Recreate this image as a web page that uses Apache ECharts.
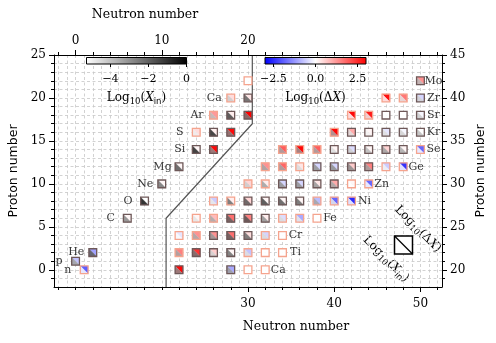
<!DOCTYPE html>
<html>
<head>
<meta charset="utf-8">
<script src="https://cdn.jsdelivr.net/npm/echarts@6/dist/echarts.min.js"></script>
<style>
  html, body { margin: 0; padding: 0; background: #fff; }
  #chart { width: 496px; height: 343px; }
</style>
</head>
<body>
<div id="chart"></div>
<script>
// light nuclei, read against the top (N) and left (Z) axes
// [N, Z, log10(Xin), log10(dX), stable]
var lightIsotopes = [
  [1, 0, -5.3, -1.9, 0],
  [0, 1, -3.3, -0.7, 1],
  [2, 2, -1.9, -1.1, 1],
  [6, 6, -2.8, 0.1, 1],
  [8, 8, -0.3, 0.0, 1],
  [10, 10, -2.4, 0.1, 1],
  [12, 12, -1.8, 0.1, 1],
  [14, 14, -0.7, 0.1, 1],
  [16, 14, -2.9, 2.9, 1],
  [14, 16, -4.9, 0.4, 0],
  [16, 16, -0.8, 0.2, 1],
  [18, 16, -2.7, 2.9, 1],
  [16, 18, -3.9, 1.2, 0],
  [18, 18, -1.4, 0.2, 1],
  [20, 18, -2.5, 3.0, 1],
  [18, 20, -4.2, 0.4, 0],
  [20, 20, -2.0, 0.3, 1],
  [20, 22, -6, 0, 0]
];

// heavier nuclei, read against the bottom (N) and right (Z) axes
var heavyIsotopes = [
  [22, 20, -2.9, 2.9, 1], [28, 20, -3.2, -1.0, 1], [30, 20, -6, 0, 0], [32, 20, -6, 0, 0],
  [22, 22, -3.4, 1.5, 0], [24, 22, -2.4, 2.4, 1], [26, 22, -4.3, 0.6, 1], [28, 22, -2.3, 0.1, 1],
  [30, 22, -4.6, -0.7, 0], [32, 22, -6, 0, 0], [34, 22, -6, 0, 0],
  [22, 24, -5.2, -0.3, 0], [24, 24, -3.5, 1.3, 0], [26, 24, -3.1, 1.3, 1], [28, 24, -2.0, 1.7, 1],
  [30, 24, -2.2, 0.4, 1], [32, 24, -4.5, -0.5, 0], [34, 24, -6, 0, 0],
  [24, 26, -4.7, 0.1, 0], [26, 26, -3.5, 0.8, 0], [28, 26, -2.0, 1.7, 1], [30, 26, -1.7, 1.5, 1],
  [32, 26, -3.0, 0.2, 1], [34, 26, -4.5, -0.4, 0], [36, 26, -4.8, -1.0, 0], [38, 26, -6, 0, 0],
  [26, 28, -4.8, -0.6, 0], [28, 28, -2.2, 0.2, 0], [30, 28, -1.8, 0.5, 1], [32, 28, -1.4, 0.1, 1],
  [34, 28, -1.8, 0.1, 1], [36, 28, -2.1, 0.1, 1], [38, 28, -3.4, -0.8, 0], [40, 28, -4.8, -1.8, 0],
  [42, 28, -5.3, -2.5, 0],
  [30, 30, -4.2, 0.5, 0], [32, 30, -3.3, 0.2, 0], [34, 30, -3.0, -0.5, 1], [36, 30, -3.0, -0.5, 1],
  [38, 30, -3.1, 0.3, 1], [40, 30, -3.4, 1.0, 1], [42, 30, -5.3, 0.1, 0], [44, 30, -5.3, -1.8, 0],
  [32, 32, -3.4, 1.3, 0], [34, 32, -3.4, 1.8, 0], [36, 32, -4.5, 0.3, 0], [38, 32, -3.0, -0.5, 1],
  [40, 32, -2.9, -0.5, 1], [42, 32, -2.9, 0.6, 1], [44, 32, -3.3, 1.5, 1], [46, 32, -5.0, -0.6, 0],
  [48, 32, -5.3, -2.4, 0],
  [34, 34, -3.4, 1.9, 0], [36, 34, -3.1, 2.9, 0], [38, 34, -3.4, 1.9, 0], [40, 34, -4.5, 0.1, 1],
  [42, 34, -4.2, -0.4, 1], [44, 34, -3.8, 0.1, 1], [46, 34, -3.3, 0.5, 1], [48, 34, -3.5, 0.1, 1],
  [50, 34, -5.3, -1.8, 0],
  [40, 36, -3.4, 2.9, 0], [42, 36, -4.6, 1.0, 1], [44, 36, -5.0, 0.1, 1], [46, 36, -4.6, -0.3, 1],
  [48, 36, -4.3, -0.1, 1], [50, 36, -3.9, 0.0, 1],
  [42, 38, -5.3, 2.9, 0], [44, 38, -4.9, 2.7, 0], [46, 38, -5.3, 0.0, 1], [48, 38, -5.3, 0.0, 1],
  [50, 38, -4.2, -0.1, 1],
  [46, 40, -5.3, 2.8, 0], [48, 40, -4.7, 1.6, 0], [50, 40, -4.3, -0.5, 1],
  [50, 42, -3.8, 1.3, 1]
];

// element names, attached to an isotope [name, N, Z]
var lightLabels = [
  ['n', 1, 0], ['p', 0, 1], ['He', 2, 2], ['C', 6, 6], ['O', 8, 8], ['Ne', 10, 10],
  ['Mg', 12, 12], ['Si', 14, 14], ['S', 14, 16], ['Ar', 16, 18], ['Ca', 18, 20]
];
var heavyLabels = [
  ['Ca', 32, 20], ['Ti', 34, 22], ['Cr', 34, 24], ['Fe', 38, 26], ['Ni', 42, 28], ['Zn', 44, 30],
  ['Ge', 48, 32], ['Se', 50, 34], ['Kr', 50, 36], ['Sr', 50, 38], ['Zr', 50, 40], ['Mo', 50, 42]
];

// boundary between the two panels (top/left units)
var borderN = [10.5, 10.5, 20.5, 20.5];
var borderZ = [-2, 6, 17, 25];

var topTicks = [0, 10, 20];
var bottomTicks = [30, 40, 50];
var leftTicks = [0, 5, 10, 15, 20, 25];
var rightTicks = [20, 25, 30, 35, 40, 45];
var xinTicks = [-4, -2, 0];
var dxTicks = [-2.5, 0, 2.5];
var xinRange = [-5.25, 0];
var dxRange = [-3, 3];

function steps(a, b, d) {
  var out = [];
  for (var v = a; v <= b + 1e-9; v += d) out.push(v);
  return out;
}

function clamp01(t) { return Math.max(0, Math.min(1, t)); }
function grayColor(v) {
  var t = clamp01((v - xinRange[0]) / (xinRange[1] - xinRange[0]));
  var g = 255 * (1 - t);
  return [g, g, g];
}
function bwrColor(v) {
  var t = clamp01((v - dxRange[0]) / (dxRange[1] - dxRange[0]));
  if (t < 0.5) { var c = 510 * t; return [c, c, 255]; }
  var c2 = 510 * (1 - t);
  return [255, c2, c2];
}
function mix(a, b, w) {
  return [a[0] * (1 - w) + b[0] * w, a[1] * (1 - w) + b[1] * w, a[2] * (1 - w) + b[2] * w];
}
function rgb(c) {
  return 'rgb(' + Math.round(c[0]) + ',' + Math.round(c[1]) + ',' + Math.round(c[2]) + ')';
}

function renderSquare(params, api) {
  var c = api.coord([api.value(0), api.value(1)]);
  var s = api.size([1, 1]);
  var w = s[0] * 0.9, h = s[1] * 0.9;
  var x0 = c[0] - w / 2, y0 = c[1] - h / 2, x1 = x0 + w, y1 = y0 + h;
  var dx = bwrColor(api.value(3));
  var xin = mix(grayColor(api.value(2)), dx, 0.15);
  var stable = api.value(4) === 1;
  return {
    type: 'group',
    children: [
      { type: 'polygon', shape: { points: [[x0, y0], [x1, y0], [x1, y1]] },
        style: { fill: rgb(dx), stroke: rgb(dx), lineWidth: 0.3 } },
      { type: 'polygon', shape: { points: [[x0, y0], [x0, y1], [x1, y1]] },
        style: { fill: rgb(xin), stroke: rgb(xin), lineWidth: 0.3 } },
      { type: 'rect', shape: { x: x0, y: y0, width: w, height: h },
        style: { fill: null, stroke: stable ? '#6e5858' : '#f5a48e', lineWidth: 1.3 } }
    ]
  };
}

function colorbar(cmap, range) {
  var stops = [];
  for (var i = 0; i <= 20; i++) {
    stops.push({ offset: i / 20, color: rgb(cmap(range[0] + (range[1] - range[0]) * i / 20)) });
  }
  return function (params, api) {
    var p0 = api.coord([api.value(0), 1]);
    var p1 = api.coord([api.value(1), 0]);
    return {
      type: 'rect',
      shape: { x: p0[0], y: p0[1], width: p1[0] - p0[0], height: p1[1] - p0[1] },
      style: { fill: new echarts.graphic.LinearGradient(0, 0, 1, 0, stops), stroke: '#000', lineWidth: 1 }
    };
  };
}

var serif = 'DejaVu Serif';
var rich = {
  a: { fontFamily: serif, fontSize: 12, color: '#000', lineHeight: 16 },
  i: { fontFamily: serif, fontSize: 12, fontStyle: 'italic', color: '#000', lineHeight: 16 },
  s: { fontFamily: serif, fontSize: 8.5, color: '#000', verticalAlign: 'bottom', lineHeight: 9 },
  r: { fontFamily: 'DejaVu Sans', fontSize: 8.5, color: '#000', verticalAlign: 'bottom', lineHeight: 9 }
};
var xinName = '{a|Log}{s|10}{a|(}{i|X}{r|in}{a|)}';
var dxName = '{a|Log}{s|10}{a|(Δ}{i|X}{a|)}';
var minus = function (v) { return String(v).replace('-', '\u2212'); };

var black = { color: '#000', width: 1 };

function mainAxis(pos, lo, hi, ticks) {
  return {
    type: 'value', gridIndex: 0, position: pos, min: lo, max: hi,
    axisLine: { show: false, onZero: false },
    axisTick: { show: true, customValues: ticks, length: 5, lineStyle: black },
    axisLabel: { show: true, customValues: ticks, color: '#000', fontFamily: serif, fontSize: 12,
                 margin: (pos === 'bottom' ? 11 : 8) },
    splitLine: { show: false }
  };
}
function minorAxis(pos, lo, hi, ticks) {
  return {
    type: 'value', gridIndex: 0, position: pos, min: lo, max: hi, z: 5,
    axisLine: { show: true, onZero: false, lineStyle: black },
    axisTick: { show: true, customValues: ticks, length: 3, lineStyle: black },
    axisLabel: { show: false },
    splitLine: { show: false }
  };
}
// dashed unit grid, carried by an otherwise invisible axis
function gridAxis(pos, lo, hi, lines) {
  return {
    type: 'value', gridIndex: 0, position: pos, min: lo, max: hi, z: 0,
    axisLine: { show: false, onZero: false },
    axisTick: { show: false, customValues: lines },
    axisLabel: { show: false },
    splitLine: { show: true, lineStyle: { color: '#c6c6c6', type: [3, 2.5], width: 0.8 } }
  };
}
function barAxis(grid, range, ticks, name, fmt) {
  return {
    type: 'value', gridIndex: grid, position: 'bottom', min: range[0], max: range[1],
    axisLine: { show: false, onZero: false },
    axisTick: { show: true, customValues: ticks, length: 3, lineStyle: black },
    axisLabel: { show: true, customValues: ticks, formatter: fmt, color: '#000',
                 fontFamily: serif, fontSize: 11, margin: 10 },
    splitLine: { show: false },
    name: name, nameLocation: 'middle', nameGap: 26, nameTextStyle: { rich: rich }
  };
}

var chart = echarts.init(document.getElementById('chart'), null, { renderer: 'canvas' });

var option = {
  animation: false,
  backgroundColor: '#fff',
  grid: [
    { left: 54, top: 55, width: 388, height: 232, outerBoundsMode: 'none' },
    { left: 86.5, top: 57.5, width: 100, height: 6.5, outerBoundsMode: 'none' },
    { left: 265, top: 57.5, width: 101, height: 6.5, outerBoundsMode: 'none' }
  ],
  xAxis: [
    mainAxis('top', -2.5, 42.5, topTicks),
    mainAxis('bottom', 7.5, 52.5, bottomTicks),
    minorAxis('top', -2.5, 42.5, steps(-2, 42, 2)),
    minorAxis('bottom', 7.5, 52.5, steps(8, 52, 2)),
    barAxis(1, xinRange, xinTicks, xinName, minus),
    barAxis(2, dxRange, dxTicks, dxName, function (v) { return minus(v.toFixed(1)); }),
    gridAxis('top', -2.5, 42.5, steps(-2, 42, 1))
  ],
  yAxis: [
    mainAxis('left', -2, 25, leftTicks),
    mainAxis('right', 18, 45, rightTicks),
    minorAxis('left', -2, 25, steps(-1, 24, 1)),
    minorAxis('right', 18, 45, steps(19, 44, 1)),
    { type: 'value', gridIndex: 1, min: 0, max: 1, show: false },
    { type: 'value', gridIndex: 2, min: 0, max: 1, show: false },
    gridAxis('left', -2, 25, steps(-1, 24, 1))
  ],
  series: [
    {
      type: 'line', xAxisIndex: 0, yAxisIndex: 0, z: 2, symbol: 'none', silent: true,
      data: borderN.map(function (n, i) { return [n, borderZ[i]]; }),
      lineStyle: { color: '#555', width: 1.2 }
    },
    {
      type: 'custom', xAxisIndex: 0, yAxisIndex: 0, z: 3, renderItem: renderSquare,
      encode: { x: 0, y: 1 }, data: lightIsotopes
    },
    {
      type: 'custom', xAxisIndex: 1, yAxisIndex: 1, z: 3, renderItem: renderSquare,
      encode: { x: 0, y: 1 }, data: heavyIsotopes
    },
    {
      type: 'scatter', xAxisIndex: 0, yAxisIndex: 0, z: 4, symbolSize: 1, silent: true,
      itemStyle: { color: 'rgba(0,0,0,0)' },
      data: lightLabels.map(function (l) { return { name: l[0], value: [l[1], l[2]] }; }),
      label: { show: true, position: 'inside', offset: [-16.5, 0], formatter: '{b}',
               color: '#000', fontFamily: serif, fontSize: 11 }
    },
    {
      type: 'scatter', xAxisIndex: 1, yAxisIndex: 1, z: 4, symbolSize: 1, silent: true,
      itemStyle: { color: 'rgba(0,0,0,0)' },
      data: heavyLabels.map(function (l) { return { name: l[0], value: [l[1], l[2]] }; }),
      label: { show: true, position: 'inside', offset: [13, 0], formatter: '{b}',
               color: '#000', fontFamily: serif, fontSize: 11 }
    },
    {
      type: 'custom', xAxisIndex: 4, yAxisIndex: 4, renderItem: colorbar(grayColor, xinRange),
      data: [[xinRange[0], xinRange[1]]]
    },
    {
      type: 'custom', xAxisIndex: 5, yAxisIndex: 5, renderItem: colorbar(bwrColor, dxRange),
      data: [[dxRange[0], dxRange[1]]]
    }
  ],
  graphic: [
    { type: 'text', x: 145, y: 15, style: { text: 'Neutron number', fontFamily: serif, fontSize: 12.5,
      fill: '#000', align: 'center', verticalAlign: 'middle' } },
    { type: 'text', x: 296, y: 327, style: { text: 'Neutron number', fontFamily: serif, fontSize: 12.5,
      fill: '#000', align: 'center', verticalAlign: 'middle' } },
    { type: 'text', x: 14, y: 171, rotation: Math.PI / 2, style: { text: 'Proton number',
      fontFamily: 'DejaVu Sans', fontSize: 12.5, fill: '#000', align: 'center', verticalAlign: 'middle' } },
    { type: 'text', x: 481, y: 171, rotation: Math.PI / 2, style: { text: 'Proton number',
      fontFamily: 'DejaVu Sans', fontSize: 12.5, fill: '#000', align: 'center', verticalAlign: 'middle' } },
    { type: 'rect', z: 10, shape: { x: 394.5, y: 236, width: 18, height: 18 },
      style: { fill: '#fff', stroke: '#000', lineWidth: 1.5 } },
    { type: 'line', z: 11, shape: { x1: 394.5, y1: 236, x2: 412.5, y2: 254 },
      style: { stroke: '#000', lineWidth: 1.2 } },
    { type: 'text', x: 418, y: 229, rotation: -Math.PI / 4, style: { text: dxName, rich: rich,
      align: 'center', verticalAlign: 'middle' } },
    { type: 'text', x: 386, y: 259, rotation: -Math.PI / 4, style: { text: xinName, rich: rich,
      align: 'center', verticalAlign: 'middle' } }
  ]
};

chart.setOption(option);
</script>
</body>
</html>
